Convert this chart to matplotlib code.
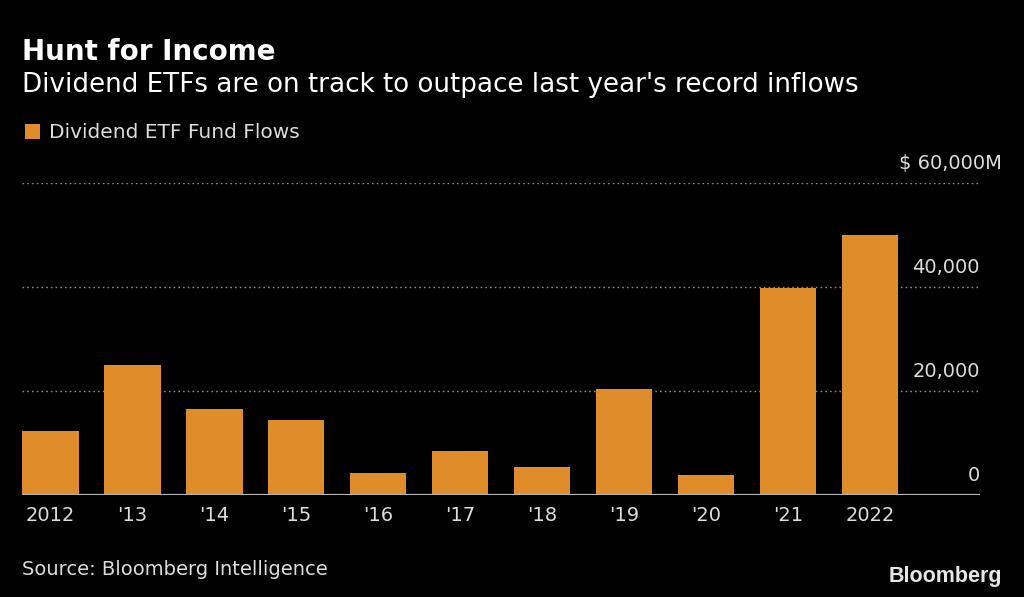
import matplotlib
matplotlib.use("Agg")
import matplotlib.pyplot as plt

# ---- data ----
years = ["2012", "'13", "'14", "'15", "'16", "'17", "'18", "'19", "'20", "'21", "2022"]
flows = [12300, 25000, 16600, 14500, 4200, 8400, 5400, 20400, 3850, 39800, 50000]
yticks = [0, 20000, 40000, 60000]
ytick_labels = ["0", "20,000", "40,000", "$ 60,000M"]

BG = "#000000"
BAR = "#DF8C2A"
TXT = "#DCDCDC"
GRID = "#8A8A8A"

W, H = 1024, 597
fig = plt.figure(figsize=(W / 100, H / 100), dpi=100, facecolor=BG)
plt.rcParams['font.family'] = ['DejaVu Sans']

def fx(px):
    return px / W

def fy(py):
    return 1 - py / H

left, right = 22, 980
y0, ytop = 495, 183
ax = fig.add_axes([fx(left), fy(y0), fx(right - left), (y0 - ytop) / H])
ax.set_facecolor(BG)

width = 0.69
x = list(range(len(years)))
bars = ax.bar(x, flows, width=width, color=BAR, zorder=3, label="Dividend ETF Fund Flows")

ax.set_xlim(-width / 2, (right - 50) / 82.0)
ax.set_ylim(0, 60000)

# gridlines (dotted), baseline solid
for yt in yticks[1:]:
    ax.axhline(yt, color=GRID, lw=1.0, ls=(0, (1.2, 2.2)), zorder=1)
ax.axhline(0, color="#B4B4B4", lw=1.6, zorder=4)

for s in ax.spines.values():
    s.set_visible(False)
ax.set_yticks([])
ax.set_xticks(x)
ax.set_xticklabels(years, color=TXT, fontsize=14)
ax.tick_params(axis='x', length=0, pad=8)

# y labels inside plot, right aligned, above gridlines
for yt, lab in zip(yticks, ytick_labels):
    dx = 16 if lab.endswith("M") else 0
    ax.annotate(lab, xy=(1, yt), xycoords=('axes fraction', 'data'),
                xytext=(dx, 10.3), textcoords='offset points',
                ha='right', va='baseline', color=TXT, fontsize=14)

# titles
fig.text(fx(22), fy(60), "Hunt for Income", color="white", fontsize=20,
         fontweight='bold', ha='left', va='baseline')
fig.text(fx(22), fy(92), "Dividend ETFs are on track to outpace last year's record inflows",
         color="white", fontsize=18.8, ha='left', va='baseline')

# legend
leg = fig.legend(handles=[bars], labels=["Dividend ETF Fund Flows"],
                 loc='center left', bbox_to_anchor=(fx(7), fy(133)),
                 frameon=False, handlelength=0.75, handleheight=0.75,
                 handletextpad=0.45, fontsize=14.5)
for t in leg.get_texts():
    t.set_color(TXT)

# source
fig.text(fx(22), fy(575), "Source: Bloomberg Intelligence", color=TXT,
         fontsize=14, ha='left', va='baseline')
fig.text(fx(1002), fy(582), "Bloomberg", color="#E6E6E6", fontsize=15.5,
         fontweight='bold', family='Liberation Sans', ha='right', va='baseline')

fig.savefig("out.png", dpi=100, facecolor=BG)
